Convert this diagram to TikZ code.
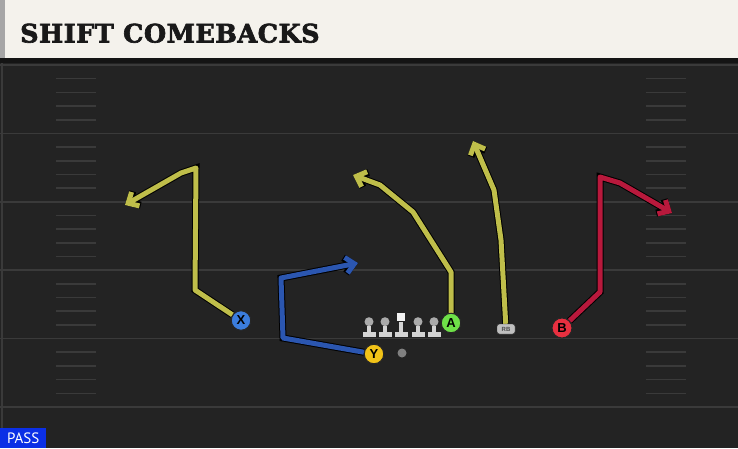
\documentclass[tikz,border=0pt]{standalone}
\usepackage{fontspec}
\usetikzlibrary{arrows.meta, positioning}
\newfontfamily\titlefont{DejaVu Serif}[FakeBold=2.5, LetterSpace=2]
\newfontfamily\playerfont{Liberation Sans}
\newfontfamily\tagfont{PT Sans}
\definecolor{fieldbg}{HTML}{232323}
\definecolor{yardgray}{HTML}{3A3A3A}
\definecolor{headercream}{HTML}{F4F2EC}
\definecolor{routeyellow}{HTML}{BFBE4A}
\definecolor{routered}{HTML}{B8193C}
\definecolor{routeblue}{HTML}{2B56B0}
\definecolor{playerX}{HTML}{3B7DDD}
\definecolor{playerY}{HTML}{F2C318}
\definecolor{playerA}{HTML}{6EE048}
\definecolor{playerB}{HTML}{E83040}
\definecolor{tagblue}{HTML}{0B2FE6}
\pgfdeclarelayer{field}
\pgfdeclarelayer{route}
\pgfsetlayers{field,route,main}

\begin{document}
\begin{tikzpicture}[x=1pt, y=-1pt,
	yard line/.style={draw=yardgray, line width=1.6},
	hash mark/.style={draw=yardgray, line width=1.6},
	player/.style={
		circle,
		draw=black!85,
		line width=1,
		minimum size=19.5pt,
		inner sep=0,
		font=\playerfont\bfseries\fontsize{13}{13}\selectfont
	},
	route/.style={
		line width=5,
		line join=round,
		-{Straight Barb[length=8.5pt,width=16pt]},
		preaction={draw=black, line width=7}
	},
	lineman base/.style={
		fill=black!17,
		minimum width=13pt,
		minimum height=5pt,
		inner sep=0
	},
	lineman stem/.style={
		fill=black!17,
		minimum width=4.5pt,
		minimum height=6pt,
		inner sep=0,
		node distance=0
	},
	lineman head/.style={
		circle,
		fill=black!33,
		minimum size=9pt,
		inner sep=0,
		node distance=-1pt
	}
]
	\useasboundingbox (0,0) rectangle (738,448);
	\begin{pgfonlayer}{field}
		\fill[fieldbg] (0,0) rectangle (738,448);
		\draw[yardgray, line width=1.2] (2,63) -- (2,448);
		\foreach \k in {0,...,5}
			\draw[yard line] (0,65+68.4*\k) -- (738,65+68.4*\k);
		\foreach \j in {1,...,24} {
			\pgfmathtruncatemacro\r{mod(\j,5)}
			\ifnum\r>0
				\draw[hash mark] (56,65+13.68*\j) -- (96,65+13.68*\j);
				\draw[hash mark] (646,65+13.68*\j) -- (686,65+13.68*\j);
			\fi
		}
		% header
		\fill[black!92] (0,57) rectangle (738,63);
		\fill[headercream] (0,0) rectangle (738,58);
		\fill[black!35] (0,0) rectangle (5,58);
	\end{pgfonlayer}

	\node[anchor=base west, inner sep=0, font=\titlefont\bfseries\fontsize{25.5}{25.5}\selectfont,
		text=black!90] (title) at (20,42.5) {SHIFT COMEBACKS};
	\node[anchor=south west, fill=tagblue, text=white, inner sep=0, minimum width=46pt,
		minimum height=20pt, font=\tagfont\fontsize{15}{15}\selectfont] (play type) at (0,448) {PASS};

	% offensive line
	\foreach \x [count=\i] in {369,385,401,418,434}
		\node[lineman base] (line \i) at (\x,334.5) {};
	\foreach \i in {1,2,4,5} {
		\node[lineman stem, above=of line \i] (stem \i) {};
		\node[lineman head, above=of stem \i] (head \i) {};
	}
	\node[lineman stem, minimum height=10pt, above=of line 3] (stem 3) {};
	\node[fill=black!5, minimum size=8.5pt, inner sep=0, above=0pt of stem 3] (head 3) {};
	\node[circle, fill=black!50, minimum size=9pt, inner sep=0] (qb) at (402,353) {};

	% skill players
	\node[player, fill=playerX] (player X) at (241,320.5) {X};
	\node[player, fill=playerY] (player Y) at (374,354) {Y};
	\node[player, fill=playerA] (player A) at (451,323) {A};
	\node[player, fill=playerB, minimum size=20pt] (player B) at (562,328) {B};
	\node[draw=black!80, fill=black!25, rounded corners=2.5pt, minimum width=18pt, minimum height=10pt,
		inner sep=0, font=\playerfont\bfseries\fontsize{6}{6}\selectfont, text=black!70] (rb) at (506,329) {RB};

	\coordinate (end X) at (125,205);
	\coordinate (end Y) at (358,263);
	\coordinate (end A) at (353,175);
	\coordinate (end RB) at (473,141);
	\coordinate (end B) at (672,213);

	\begin{pgfonlayer}{route}
		\draw[route, routeyellow] (player X) -- (195,290) -- (196,168) -- (181,173) -- (end X);
		\draw[route, routeblue] (player Y) -- (283,338) -- (281,278) -- (end Y);
		\draw[route, routeyellow] (player A) -- (451,272) -- (413,212) -- (380,185) -- (end A);
		\draw[route, routeyellow] (rb) -- (501,240) -- (494,190) -- (end RB);
		\draw[route, routered] (player B) -- (600,292) -- (600,177) -- (620,183) -- (end B);
	\end{pgfonlayer}
\end{tikzpicture}
\end{document}
